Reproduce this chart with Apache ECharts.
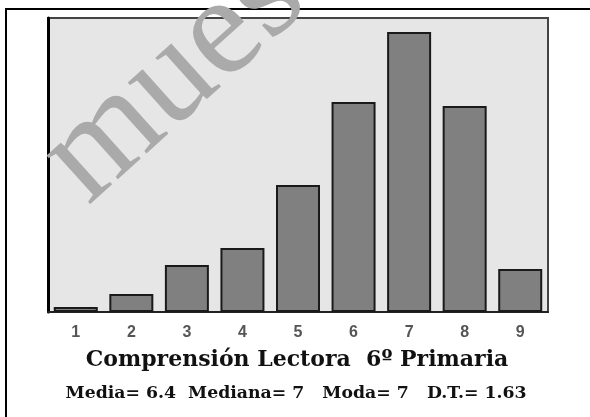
<!DOCTYPE html>
<html>
<head>
<meta charset="utf-8">
<script src="https://cdn.jsdelivr.net/npm/echarts@6/dist/echarts.min.js"></script>
<style>html,body{margin:0;padding:0;background:#fff;}#c{width:590px;height:417px;}</style>
</head>
<body>
<div id="c"></div>
<script>
const categories = ['1', '2', '3', '4', '5', '6', '7', '8', '9'];
const percentages = [0.5, 1.8, 4.7, 6.4, 12.7, 21.0, 28.0, 20.6, 4.3];
const yMax = 29.4;
const titleText = 'Comprensión Lectora  6º Primaria';
const statsText = 'Media= 6.4  Mediana= 7   Moda= 7   D.T.= 1.63';
const watermarkText = 'muestra';

const chart = echarts.init(document.getElementById('c'), null, {renderer: 'canvas'});
chart.setOption({
  animation: false,
  backgroundColor: '#ffffff',
  grid: {
    left: 48, right: 42, top: 18, bottom: 105,
    show: true, backgroundColor: '#e6e6e6', borderColor: '#444444', borderWidth: 2
  },
  xAxis: {
    type: 'category', data: categories,
    axisLine: {show: true, lineStyle: {color: '#222222', width: 2}},
    axisTick: {show: false},
    axisLabel: {color: '#555555', fontWeight: 'bold', fontSize: 16, fontFamily: 'Liberation Sans', margin: 13}
  },
  yAxis: {
    type: 'value', min: 0, max: yMax,
    axisLine: {show: true, lineStyle: {color: '#000000', width: 3}},
    axisTick: {show: false}, axisLabel: {show: false}, splitLine: {show: false}
  },
  series: [{
    type: 'bar', data: percentages, barWidth: 44,
    itemStyle: {color: '#808080', borderColor: '#1a1a1a', borderWidth: 2}
  }],
  graphic: [
    {type: 'rect', shape: {x: 6, y: 9, width: 620, height: 440}, style: {fill: 'none', stroke: '#000000', lineWidth: 2}, z: 100, silent: true},
    {type: 'text', x: 297, y: 360, style: {text: titleText, fill: '#111111', font: 'bold 22px "DejaVu Serif"', align: 'center', verticalAlign: 'middle'}, z: 100},
    {type: 'text', x: 296, y: 394, style: {text: statsText, fill: '#111111', font: 'bold 17.3px "DejaVu Serif"', align: 'center', verticalAlign: 'middle'}, z: 100},
    {type: 'text', x: 230, y: 28, rotation: 42 * Math.PI / 180, style: {text: watermarkText, fill: '#aaaaaa', font: '142px "Liberation Serif"', align: 'center', verticalAlign: 'middle'}, z: 200, silent: true}
  ]
});
</script>
</body>
</html>
